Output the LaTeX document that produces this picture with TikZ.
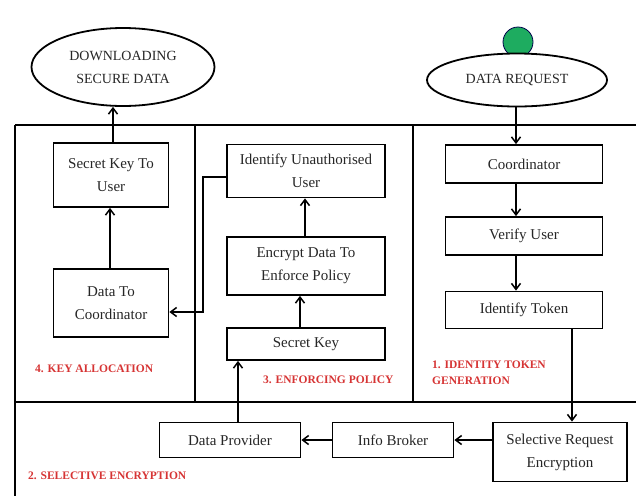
\documentclass[tikz,border=0pt]{standalone}
\usepackage{fontspec}
\setmainfont{Liberation Serif}
\usepackage{tikz}
\usetikzlibrary{arrows.meta,shapes.geometric}
\definecolor{lblred}{RGB}{214,52,52}
\definecolor{dotgreen}{RGB}{30,172,96}
\def\boxfont{\fontsize{15}{23}\selectfont}
\def\lblfont{\fontsize{11.5}{16}\selectfont\bfseries}

\begin{document}
\begin{tikzpicture}[x=1pt,y=-1pt,
	stepbox/.style={draw,line width=1.8pt,align=center,inner sep=0pt,font=\boxfont,text=black!85},
	oval/.style={draw,ellipse,line width=1.8pt,fill=white,align=center,inner sep=0pt,font=\fontsize{14}{23}\selectfont,text=black!85},
	arr/.style={line width=1.5pt,-{Straight Barb[length=6pt,width=9pt,line width=1.5pt]}},
	lbl/.style={anchor=west,align=left,text=lblred,font=\lblfont,inner sep=0pt}]
	%%%%% START %%%%%
	\useasboundingbox (0,0) rectangle (636,496);
	
	% frame
	\draw[line width=1.7pt] (15,125) -- (636,125);
	\draw[line width=1.7pt] (15,402) -- (636,402);
	\draw[line width=1.7pt] (15,125) -- (15,496);
	\draw[line width=1.7pt] (195,125) -- (195,402);
	\draw[line width=1.7pt] (413,125) -- (413,402);
	
	% start and end
	\draw[fill=dotgreen,draw=black!70!blue,line width=0.8pt] (518,42) circle (15);
	\node[oval,minimum width=180,minimum height=53] (dr) at (517,80) {DATA REQUEST};
	\node[oval,minimum width=183,minimum height=78] (dl) at (123,67) {DOWNLOADING\\SECURE DATA};
	
	% 1. identity token generation
	\node[stepbox,minimum width=157,minimum height=38] (co) at (524,164) {Coordinator};
	\node[stepbox,minimum width=157,minimum height=38] (vu) at (524,236) {Verify User};
	\node[stepbox,minimum width=157,minimum height=37] (it) at (524,310) {Identify Token};
	\node[lbl] at (432,373) {1. IDENTITY TOKEN\\GENERATION};
	
	% 2. selective encryption
	\node[stepbox,minimum width=134,minimum height=59] (sel) at (560,452) {Selective Request\\Encryption};
	\node[stepbox,minimum width=121,minimum height=35] (ib) at (393,440) {Info Broker};
	\node[stepbox,minimum width=141,minimum height=35] (dp) at (230,440) {Data Provider};
	\node[lbl] at (28,476) {2. SELECTIVE ENCRYPTION};
	
	% 3. enforcing policy
	\node[stepbox,minimum width=158,minimum height=32] (sk) at (306,344) {Secret Key};
	\node[stepbox,minimum width=158,minimum height=58] (ed) at (306,266) {Encrypt Data To\\Enforce Policy};
	\node[stepbox,minimum width=158,minimum height=53] (iu) at (306,171) {Identify Unauthorised\\User};
	\node[lbl] at (263,380) {3. ENFORCING POLICY};
	
	% 4. key allocation
	\node[stepbox,minimum width=115,minimum height=68] (dc) at (111,303) {Data To\\Coordinator};
	\node[stepbox,minimum width=115,minimum height=64] (su) at (111,175) {Secret Key To\\User};
	\node[lbl] at (35,369) {4. KEY ALLOCATION};
	
	% flow
	\draw[arr] ([xshift=-1]dr.south) -- ([xshift=-1]dr.south |- co.north);
	\draw[arr] (co.south -| 516,0) -- (vu.north -| 516,0);
	\draw[arr] (vu.south -| 516,0) -- (it.north -| 516,0);
	\draw[arr] ([xshift=48]it.south) -- ([xshift=48]it.south |- sel.north);
	\draw[arr] (sel.west |- ib.east) -- (ib.east);
	\draw[arr] (ib.west) -- (dp.east);
	\draw[arr] ([xshift=8]dp.north) -- ([xshift=8]dp.north |- sk.south);
	\draw[arr] (sk.north -| 300,0) -- (ed.south -| 300,0);
	\draw[arr] (ed.north -| 305,0) -- (iu.south -| 305,0);
	\draw[arr] ([yshift=-6]iu.west) -- ++(-23,0) |- ([yshift=-9]dc.east);
	\draw[arr] (dc.north -| 110,0) -- (su.south -| 110,0);
	\draw[arr] ([xshift=2]su.north) -- ([xshift=2]su.north |- dl.south);
	
	%%%%% END %%%%%
\end{tikzpicture}
\end{document}
